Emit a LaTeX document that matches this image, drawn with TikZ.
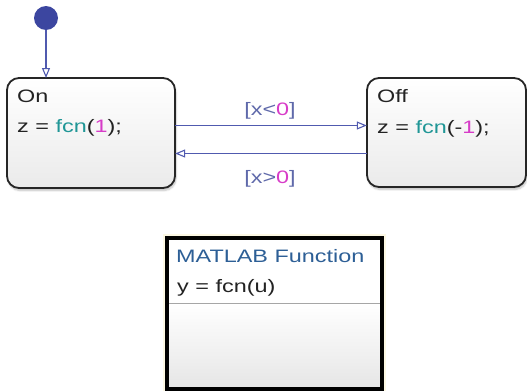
\documentclass[tikz,border=0pt]{standalone}
\usepackage{fontspec}
\usetikzlibrary{arrows.meta,shadows.blur}
\newfontfamily\diagfont[FakeStretch=1.3]{Liberation Sans}
\definecolor{txtdark}{RGB}{35,35,35}
\definecolor{fcncol}{RGB}{32,150,150}
\definecolor{numcol}{RGB}{215,60,200}
\definecolor{transcol}{RGB}{80,90,175}
\definecolor{lblcol}{RGB}{95,105,170}
\definecolor{mlblue}{RGB}{45,95,150}
\definecolor{dotcol}{RGB}{60,70,160}
\definecolor{glowcol}{RGB}{252,248,228}
\tikzset{
  x=1pt, y=-1pt,
  txt/.style={font=\diagfont\fontsize{18}{20}\selectfont, text=txtdark, inner sep=0pt, anchor=base west},
  statebox/.style={draw=black!85, line width=1.8pt, rounded corners=12pt, top color=white, bottom color=black!8,
    blur shadow={shadow xshift=1pt, shadow yshift=-2.5pt, shadow blur steps=6, shadow opacity=25}},
  trans/.style={draw=transcol, line width=1.5pt, -{Triangle[open, length=10pt, width=8pt, line width=1.1pt]}},
  lbl/.style={font=\diagfont\fontsize{18}{20}\selectfont, text=lblcol, inner sep=0pt, anchor=base},
}
\newcommand{\fcnw}{\textcolor{fcncol}{fcn}}
\newcommand{\numw}[1]{\textcolor{numcol}{#1}}
\begin{document}
\begin{tikzpicture}
\useasboundingbox (0,0) rectangle (527,391);
% states
\path[statebox] (7,78) rectangle (175,188);
\node[minimum width=168pt, minimum height=110pt, inner sep=0pt] (on) at (91,133) {};
\path[statebox] (367,78) rectangle (526,187);
\node[minimum width=159pt, minimum height=109pt, inner sep=0pt] (off) at (446.5,132.5) {};
% state texts
\node[txt] (ontitle) at (17,102) {On};
\node[txt] (onact) at (17,132) {z = \fcnw(\numw{1});};
\node[txt] (offtitle) at (377,102) {Off};
\node[txt] (offact) at (377,133) {z = \fcnw(-\numw{1});};
% default transition
\node[circle, fill=dotcol, minimum size=24pt, inner sep=0pt] (dot) at (46,18) {};
\coordinate (ontop) at (46,78);
\draw[trans] (dot) -- (ontop);
% transitions
\draw[trans] ([yshift=7.5pt]on.east) -- ([yshift=7pt]off.west);
\draw[trans] ([yshift=-21pt]off.west) -- ([yshift=-20.5pt]on.east);
\node[lbl] (l1) at (270,115) {[x<\numw{0}]};
\node[lbl] (l2) at (270,183) {[x>\numw{0}]};
% MATLAB function box
\fill[glowcol] (163,234) rectangle (386,391);
\fill[white] (167,238) rectangle (382,303);
\shade[top color=white, bottom color=black!10] (167,303) rectangle (382,389);
\draw[black!35, line width=0.8pt] (167,303) -- (382,303);
\draw[black, line width=3.2pt] (167,238) rectangle (382,389);
\node[minimum width=215pt, minimum height=151pt, inner sep=0pt] (mlfn) at (274.5,313.5) {};
\node[txt, text=mlblue] (mltitle) at (176,262) {MATLAB Function};
\node[txt] (mlsig) at (177,292) {y = fcn(u)};
\end{tikzpicture}
\end{document}
